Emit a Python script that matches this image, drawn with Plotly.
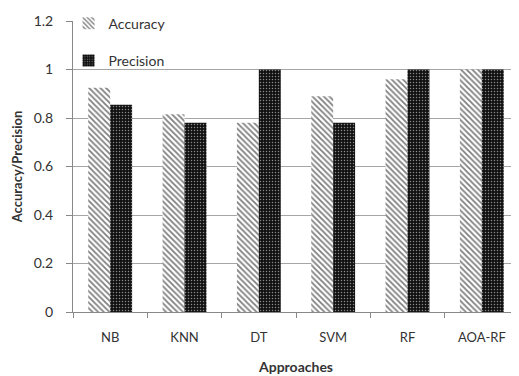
import plotly.graph_objects as go

categories = ["NB", "KNN", "DT", "SVM", "RF", "AOA-RF"]
accuracy = [0.925, 0.815, 0.78, 0.89, 0.96, 1.0]
precision = [0.855, 0.78, 1.0, 0.78, 1.0, 1.0]
y_ticks = [0, 0.2, 0.4, 0.6, 0.8, 1, 1.2]

FONT = "Lato"
TXT = "#333333"

fig = go.Figure()
fig.add_trace(go.Bar(
    x=categories, y=accuracy, name="Accuracy", legendgroup="a",
    marker=dict(color="white", line=dict(width=0),
                pattern=dict(shape="\\", fgcolor="black", bgcolor="white",
                             size=4, solidity=0.45, fillmode="overlay")),
))
fig.add_trace(go.Bar(
    x=categories, y=precision, name="Precision", legendgroup="p",
    marker=dict(color="#111111", line=dict(width=0),
                pattern=dict(shape=".", fgcolor="white", bgcolor="#111111",
                             size=3, solidity=0.2, fillmode="overlay")),
))

# page body has an 8px margin, so the figure is 8px smaller and shifted
fig.update_layout(
    width=511, height=368,
    margin=dict(l=65, r=0, t=13, b=64, autoexpand=False),
    paper_bgcolor="white", plot_bgcolor="white",
    barmode="group", bargap=0.41, bargroupgap=0,
    font=dict(family=FONT, size=13, color=TXT),
    showlegend=True,
    legend=dict(x=-0.01, y=1.046, xanchor="left", yanchor="top",
                bgcolor="rgba(255,255,255,0)", traceorder="grouped",
                tracegroupgap=16, font=dict(size=14, color=TXT),
                itemwidth=30),
    xaxis=dict(
        type="category", tickson="boundaries", ticks="outside", ticklen=5,
        tickcolor="#888888", showline=True, linecolor="#888888", linewidth=1,
        showgrid=False, automargin=False, ticklabelstandoff=13,
        tickfont=dict(size=13, color=TXT),
        title=dict(text="<b>Approaches</b>", font=dict(size=14, color=TXT),
                   standoff=18),
    ),
    yaxis=dict(
        range=[0, 1.2], tickvals=y_ticks, ticktext=["0", "0.2", "0.4", "0.6", "0.8", "1", "1.2"],
        ticks="outside", ticklen=6, tickcolor="#888888",
        showline=True, linecolor="#888888", linewidth=1,
        showgrid=True, gridcolor="#a6a6a6", gridwidth=1,
        zeroline=False, automargin=False, ticklabelstandoff=10,
        tickfont=dict(size=14, color=TXT),
        title=dict(text="<b>Accuracy/Precision</b>", font=dict(size=13, color=TXT),
                   standoff=8),
    ),
)

fig.write_html("out.html")
